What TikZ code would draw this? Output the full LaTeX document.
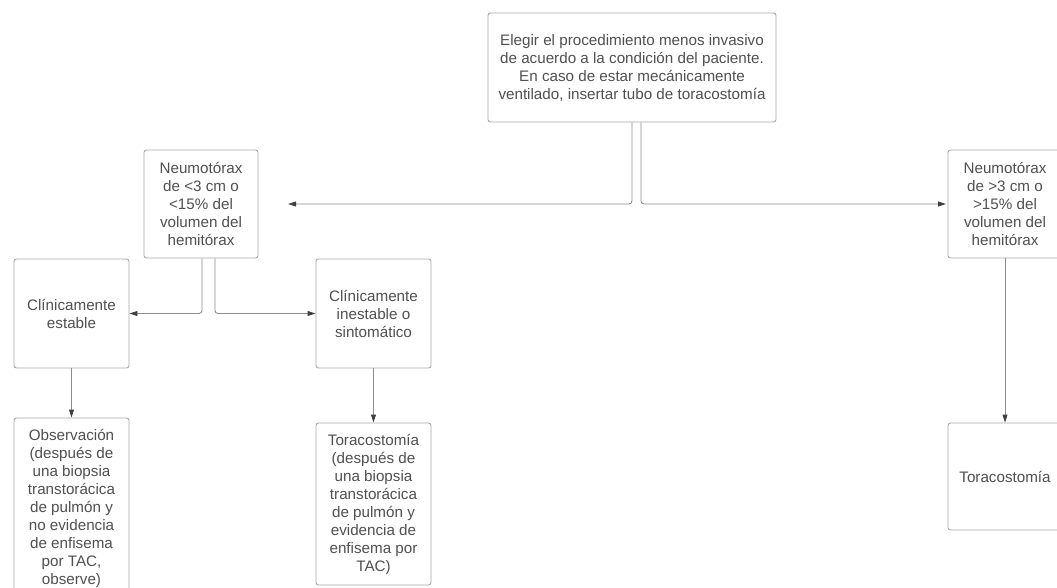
\documentclass[tikz,border=0pt]{standalone}
\usepackage{fontspec}
\setmainfont{Liberation Sans}
\usepackage{tikz}
\usetikzlibrary{arrows.meta,calc}

\definecolor{boxline}{HTML}{A8A8A8}
\definecolor{linkline}{HTML}{8C8C8C}
\definecolor{boxtext}{HTML}{505050}

\begin{document}
\begin{tikzpicture}[x=1pt,y=-1pt]
    % `paso' is used for every box of the chart.
    % `flecha' is used for the grey connectors with small dark tips.
    \tikzstyle{paso} = [draw=boxline,line width=0.9pt,rounded corners=2.5pt,
        align=center,text=boxtext,inner sep=0pt,
        font=\fontsize{15.2}{18}\selectfont]
    \tikzstyle{flecha} = [draw=linkline,line width=0.9pt,rounded corners=3pt,
        -{Triangle[length=8pt,width=5pt,color=black!75]}]
    %
    \clip (0,0) rectangle (1057,587);
    \fill[white] (0,0) rectangle (1057,587);
    %
    % Top box.
    \node[paso,minimum width=288pt,minimum height=109pt] (eleccion) at (632,67.5)
        {Elegir el procedimiento menos invasivo\\de acuerdo a la condición del paciente.\\En caso de estar mecánicamente\\ventilado, insertar tubo de toracostomía};
    % Left branch.
    \node[paso,minimum width=114pt,minimum height=108pt] (neuMenor) at (201,204)
        {Neumotórax\\de <3 cm o\\<15\% del\\volumen del\\hemitórax};
    \node[paso,minimum width=115pt,minimum height=109pt] (estable) at (71.5,313.5)
        {Clínicamente\\estable};
    \node[paso,minimum width=115pt,minimum height=109pt] (inestable) at (373.5,313.5)
        {Clínicamente\\inestable o\\sintomático};
    \node[paso,minimum width=115pt,minimum height=180pt] (observacion) at (71.5,508)
        {Observación\\(después de\\una biopsia\\transtorácica\\de pulmón y\\no evidencia\\de enfisema\\por TAC,\\observe)};
    \node[paso,minimum width=115pt,minimum height=162pt] (toraIzq) at (373.5,504)
        {Toracostomía\\(después de\\una biopsia\\transtorácica\\de pulmón y\\evidencia de\\enfisema por\\TAC)};
    % Right branch.
    \node[paso,minimum width=114pt,minimum height=108pt] (neuMayor) at (1005,204)
        {Neumotórax\\de >3 cm o\\>15\% del\\volumen del\\hemitórax};
    \node[paso,minimum width=114pt,minimum height=107pt] (toraDer) at (1005,476.5)
        {Toracostomía};
    %
    % Free ends of the two long arrows.
    \coordinate (finIzq) at (288,204);
    \coordinate (finDer) at (946,204);
    %
    % Draw connectors.
    \draw[flecha] ([xshift=0pt]eleccion.south) |- (finIzq);
    \draw[flecha] ([xshift=9pt]eleccion.south) |- (finDer);
    \draw[flecha] ([xshift=1pt]neuMenor.south) |- (estable.east);
    \draw[flecha] ([xshift=14pt]neuMenor.south) |- (inestable.west);
    \draw[flecha] (estable.south) -- (observacion.north);
    \draw[flecha] (inestable.south) -- (toraIzq.north);
    \draw[flecha] (neuMayor.south) -- (toraDer.north);
    %
\end{tikzpicture}
\end{document}
